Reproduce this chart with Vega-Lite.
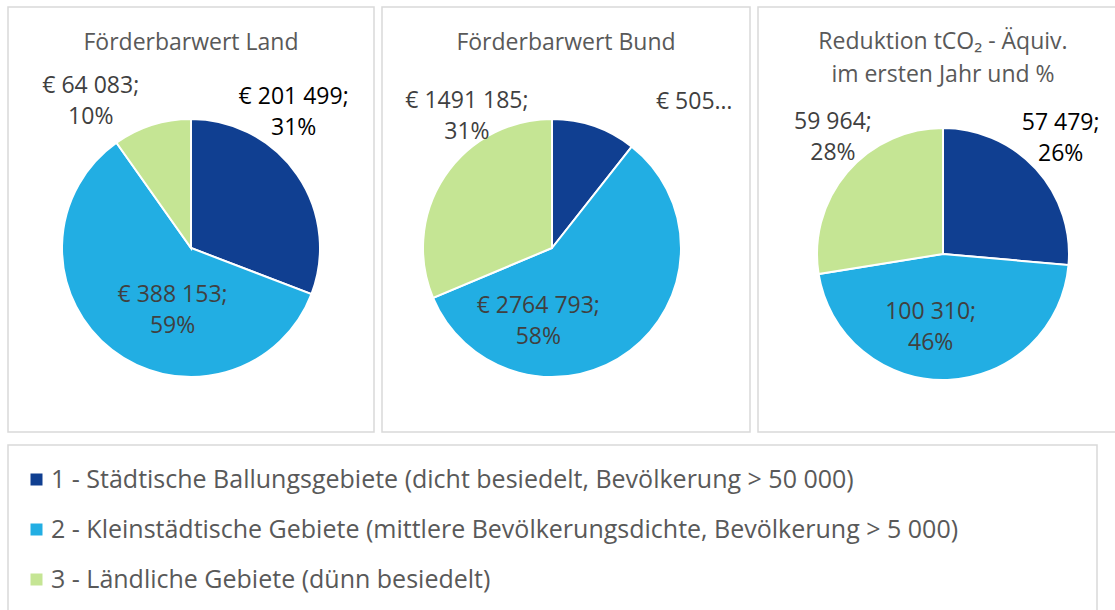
{
  "$schema": "https://vega.github.io/schema/vega-lite/v6.json",
  "background": "white",
  "padding": {"left": 7, "top": 6, "right": 0, "bottom": 0},
  "datasets": {
    "torten": [
      {"Diagramm": "Land", "Nr": 1, "Gebiet": "1 - Städtische Ballungsgebiete (dicht besiedelt, Bevölkerung > 50 000)", "Wert": 201499, "Beschriftung": "€ 201 499;\n31%"},
      {"Diagramm": "Land", "Nr": 2, "Gebiet": "2 - Kleinstädtische Gebiete (mittlere Bevölkerungsdichte, Bevölkerung > 5 000)", "Wert": 388153, "Beschriftung": "€ 388 153;\n59%"},
      {"Diagramm": "Land", "Nr": 3, "Gebiet": "3 - Ländliche Gebiete (dünn besiedelt)", "Wert": 64083, "Beschriftung": "€ 64 083;\n10%"},
      {"Diagramm": "Bund", "Nr": 1, "Gebiet": "1 - Städtische Ballungsgebiete (dicht besiedelt, Bevölkerung > 50 000)", "Wert": 505000, "Beschriftung": "€ 505…"},
      {"Diagramm": "Bund", "Nr": 2, "Gebiet": "2 - Kleinstädtische Gebiete (mittlere Bevölkerungsdichte, Bevölkerung > 5 000)", "Wert": 2764793, "Beschriftung": "€ 2764 793;\n58%"},
      {"Diagramm": "Bund", "Nr": 3, "Gebiet": "3 - Ländliche Gebiete (dünn besiedelt)", "Wert": 1491185, "Beschriftung": "€ 1491 185;\n31%"},
      {"Diagramm": "CO2", "Nr": 1, "Gebiet": "1 - Städtische Ballungsgebiete (dicht besiedelt, Bevölkerung > 50 000)", "Wert": 57479, "Beschriftung": "57 479;\n26%"},
      {"Diagramm": "CO2", "Nr": 2, "Gebiet": "2 - Kleinstädtische Gebiete (mittlere Bevölkerungsdichte, Bevölkerung > 5 000)", "Wert": 100310, "Beschriftung": "100 310;\n46%"},
      {"Diagramm": "CO2", "Nr": 3, "Gebiet": "3 - Ländliche Gebiete (dünn besiedelt)", "Wert": 59964, "Beschriftung": "59 964;\n28%"}
    ],
    "legende": [
      {"Gebiet": "1 - Städtische Ballungsgebiete (dicht besiedelt, Bevölkerung > 50 000)"},
      {"Gebiet": "2 - Kleinstädtische Gebiete (mittlere Bevölkerungsdichte, Bevölkerung > 5 000)"},
      {"Gebiet": "3 - Ländliche Gebiete (dünn besiedelt)"}
    ]
  },
  "config": {
    "view": {"stroke": "#d9d9d9", "strokeWidth": 1.5},
    "style": {"view": {"stroke": "#d9d9d9", "strokeWidth": 1.5}},
    "font": "Open Sans",
    "title": {"font": "Open Sans", "fontSize": 23, "fontWeight": "normal", "color": "#595959", "anchor": "middle", "frame": "group", "baseline": "middle", "offset": -48, "lineHeight": 32},
    "text": {"font": "Open Sans", "fontSize": 23, "lineHeight": 31, "lineBreak": "\n", "align": "center", "baseline": "middle"},
    "arc": {"stroke": "white", "strokeWidth": 2}
  },
  "resolve": {"legend": {"color": "independent"}},
  "spacing": 8,
  "vconcat": [
    {
      "spacing": 6,
      "hconcat": [
        {
          "width": 366, "height": 425,
          "title": "Förderbarwert Land",
          "data": {"name": "torten"},
          "transform": [{"filter": "datum.Diagramm == 'Land'"}],
          "encoding": {
            "theta": {"field": "Wert", "type": "quantitative", "stack": true},
            "order": {"field": "Nr", "type": "quantitative", "sort": "ascending"}
          },
          "layer": [
            {"mark": {"type": "arc", "outerRadius": 129, "x": 183, "y": 241},
             "encoding": {"color": {"field": "Gebiet", "type": "nominal", "legend": null, "scale": {"domain": ["1 - Städtische Ballungsgebiete (dicht besiedelt, Bevölkerung > 50 000)", "2 - Kleinstädtische Gebiete (mittlere Bevölkerungsdichte, Bevölkerung > 5 000)", "3 - Ländliche Gebiete (dünn besiedelt)"], "range": ["#103f91", "#22aee3", "#c5e594"]}}}},
            {"mark": {"type": "text", "radius": 161, "dx": -30, "dy": -60, "color": "#000000", "x": 183, "y": 241},
             "encoding": {"text": {"condition": {"test": "datum.Nr == 1", "field": "Beschriftung", "type": "nominal"}, "value": ""}}},
            {"mark": {"type": "text", "radius": 61, "dx": 19, "dy": -1, "color": "#404040", "x": 183, "y": 241},
             "encoding": {"text": {"condition": {"test": "datum.Nr == 2", "field": "Beschriftung", "type": "nominal"}, "value": ""}}},
            {"mark": {"type": "text", "radius": 169, "dx": -49, "dy": -1, "color": "#404040", "x": 183, "y": 241},
             "encoding": {"text": {"condition": {"test": "datum.Nr == 3", "field": "Beschriftung", "type": "nominal"}, "value": ""}}}
          ]
        },
        {
          "width": 368, "height": 425,
          "title": "Förderbarwert Bund",
          "data": {"name": "torten"},
          "transform": [{"filter": "datum.Diagramm == 'Bund'"}],
          "encoding": {
            "theta": {"field": "Wert", "type": "quantitative", "stack": true},
            "order": {"field": "Nr", "type": "quantitative", "sort": "ascending"}
          },
          "layer": [
            {"mark": {"type": "arc", "outerRadius": 129, "x": 170, "y": 241},
             "encoding": {"color": {"field": "Gebiet", "type": "nominal", "legend": null, "scale": {"domain": ["1 - Städtische Ballungsgebiete (dicht besiedelt, Bevölkerung > 50 000)", "2 - Kleinstädtische Gebiete (mittlere Bevölkerungsdichte, Bevölkerung > 5 000)", "3 - Ländliche Gebiete (dünn besiedelt)"], "range": ["#103f91", "#22aee3", "#c5e594"]}}}},
            {"mark": {"type": "text", "radius": 184, "dx": 82, "dy": 28, "color": "#404040", "x": 170, "y": 241},
             "encoding": {"text": {"condition": {"test": "datum.Nr == 1", "field": "Beschriftung", "type": "nominal"}, "value": ""}}},
            {"mark": {"type": "text", "radius": 50, "dx": -44, "dy": 18, "color": "#404040", "x": 170, "y": 241},
             "encoding": {"text": {"condition": {"test": "datum.Nr == 2", "field": "Beschriftung", "type": "nominal"}, "value": ""}}},
            {"mark": {"type": "text", "radius": 143, "dx": 34, "dy": -68, "color": "#404040", "x": 170, "y": 241},
             "encoding": {"text": {"condition": {"test": "datum.Nr == 3", "field": "Beschriftung", "type": "nominal"}, "value": ""}}}
          ]
        },
        {
          "width": 370, "height": 425,
          "title": {"text": ["Reduktion tCO₂ - Äquiv.", "im ersten Jahr und %"], "offset": -80, "lineHeight": 33},
          "data": {"name": "torten"},
          "transform": [{"filter": "datum.Diagramm == 'CO2'"}],
          "encoding": {
            "theta": {"field": "Wert", "type": "quantitative", "stack": true},
            "order": {"field": "Nr", "type": "quantitative", "sort": "ascending"}
          },
          "layer": [
            {"mark": {"type": "arc", "outerRadius": 126, "x": 185, "y": 247},
             "encoding": {"color": {"field": "Gebiet", "type": "nominal", "legend": null, "scale": {"domain": ["1 - Städtische Ballungsgebiete (dicht besiedelt, Bevölkerung > 50 000)", "2 - Kleinstädtische Gebiete (mittlere Bevölkerungsdichte, Bevölkerung > 5 000)", "3 - Ländliche Gebiete (dünn besiedelt)"], "range": ["#103f91", "#22aee3", "#c5e594"]}}}},
            {"mark": {"type": "text", "radius": 165, "dx": -4, "dy": -20, "color": "#000000", "x": 185, "y": 247},
             "encoding": {"text": {"condition": {"test": "datum.Nr == 1", "field": "Beschriftung", "type": "nominal"}, "value": ""}}},
            {"mark": {"type": "text", "radius": 74, "dx": -15, "dy": -16, "color": "#404040", "x": 185, "y": 247},
             "encoding": {"text": {"condition": {"test": "datum.Nr == 2", "field": "Beschriftung", "type": "nominal"}, "value": ""}}},
            {"mark": {"type": "text", "radius": 159, "dx": 11, "dy": -29, "color": "#404040", "x": 185, "y": 247},
             "encoding": {"text": {"condition": {"test": "datum.Nr == 3", "field": "Beschriftung", "type": "nominal"}, "value": ""}}}
          ]
        }
      ]
    },
    {
      "width": 1089, "height": 175,
      "data": {"name": "legende"},
      "mark": {"type": "square", "opacity": 0},
      "encoding": {
        "color": {"field": "Gebiet", "type": "nominal",
          "scale": {"domain": ["1 - Städtische Ballungsgebiete (dicht besiedelt, Bevölkerung > 50 000)", "2 - Kleinstädtische Gebiete (mittlere Bevölkerungsdichte, Bevölkerung > 5 000)", "3 - Ländliche Gebiete (dünn besiedelt)"], "range": ["#103f91", "#22aee3", "#c5e594"]},
          "legend": {"orient": "none", "legendX": 16, "legendY": 22, "title": null, "symbolType": "square", "symbolSize": 144, "symbolStrokeWidth": 0, "symbolOpacity": 1, "labelFont": "Open Sans", "labelFontSize": 25, "labelColor": "#595959", "labelLimit": 0, "labelOffset": 2, "rowPadding": 24, "padding": 0}}
      }
    }
  ]
}
